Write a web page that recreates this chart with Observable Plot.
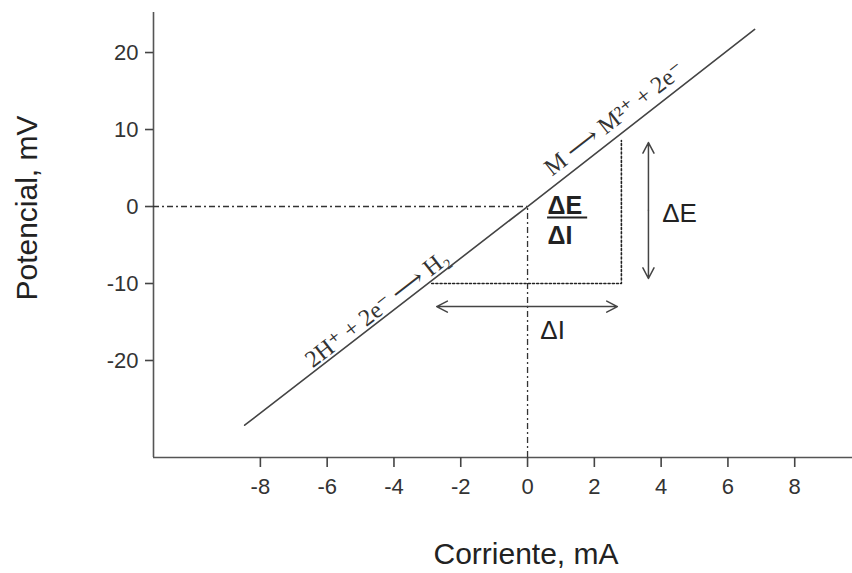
<!DOCTYPE html>
<html><head><meta charset="utf-8">
<script src="https://cdn.jsdelivr.net/npm/d3@7"></script>
<script src="https://cdn.jsdelivr.net/npm/@observablehq/plot@0.6"></script>
<style>body{margin:0;background:#fff}</style>
</head><body><div id="chart"></div>
<script>
// axis ticks
const xTicks = [-8, -6, -4, -2, 0, 2, 4, 6, 8];
const yTicks = [-20, -10, 0, 10, 20];
const xDomain = [-11.2, 9.73];
const yDomain = [-32.6, 25.2];

// polarization line (Corriente I, Potencial E)
const lineI = [-8.47, 0, 6.8];
const lineE = [-28.4, 0, 23.0];

// dotted triangle (ΔI, ΔE)
const triI = [-2.87, 2.81, 2.81];
const triE = [-10, -10, 8.57];

// double arrows (drawn as pairs from a midpoint)
const arrowFromI = [0, 0, 3.62, 3.62];
const arrowFromE = [-13, -13, -0.5, -0.5];
const arrowToI = [-2.72, 2.69, 3.62, 3.62];
const arrowToE = [-13, -13, 8.31, -9.35];

// labels
const deltaText = ["ΔE", "ΔI"];
const deltaI = [4.55, 0.75];
const deltaE = [-0.9, -16.1];

const fracText = ["ΔE", "ΔI"];
const fracI = [0.6, 0.6];
const fracE = [0.1, -3.8];
const fracBarI = [0.6, 1.8];
const fracBarE = -1.43;

const reactText = ["2H⁺ + 2e⁻ ⟶ H₂", "M ⟶ M²⁺ + 2e⁻"];
const reactI = [-4.5, 2.6];
const reactE = [-13.3, 11.4];

const xTitle = "Corriente, mA";
const yTitle = "Potencial, mV";

const idx = a => a.map((_, i) => i);

const chart = Plot.plot({
  width: 852,
  height: 573,
  marginLeft: 153,
  marginRight: 0,
  marginTop: 12,
  marginBottom: 116,
  style: {fontFamily: "'Liberation Sans', Arial, sans-serif", fontSize: "22px", color: "#333", background: "#fff"},
  x: {domain: xDomain},
  y: {domain: yDomain},
  marks: [
    // axes
    Plot.ruleY([yDomain[0]], {stroke: "#555", strokeWidth: 1.6}),
    Plot.ruleX([xDomain[0]], {stroke: "#555", strokeWidth: 1.6}),
    Plot.axisX(xTicks, {anchor: "bottom", tickSize: 10, tickPadding: 11, label: null, tickFormat: d => String(d),
      stroke: "#444", strokeWidth: 1.6, fill: "#333"}),
    Plot.axisY(yTicks, {anchor: "left", tickSize: 8, tickPadding: 7, label: null, tickFormat: d => String(d),
      stroke: "#444", strokeWidth: 1.6, fill: "#333"}),
    // origin guides (dash-dot)
    Plot.ruleY([0], {x1: xDomain[0], x2: 0, stroke: "#333", strokeWidth: 1.3, strokeDasharray: "6,3,2,3"}),
    Plot.ruleX([0], {y1: yDomain[0], y2: 0, stroke: "#333", strokeWidth: 1.3, strokeDasharray: "6,3,2,3"}),
    // main line
    Plot.line(idx(lineI), {x: i => lineI[i], y: i => lineE[i], stroke: "#444", strokeWidth: 1.6}),
    // dotted triangle
    Plot.line(idx(triI), {x: i => triI[i], y: i => triE[i], stroke: "#222", strokeWidth: 1.6, strokeDasharray: "2,2.2"}),
    // arrows
    Plot.arrow(idx(arrowFromI), {x1: i => arrowFromI[i], y1: i => arrowFromE[i], x2: i => arrowToI[i], y2: i => arrowToE[i],
      stroke: "#444", strokeWidth: 1.5, headLength: 12, headAngle: 55}),
    // ΔE, ΔI labels
    Plot.text(idx(deltaText), {x: i => deltaI[i], y: i => deltaE[i], text: i => deltaText[i], fontSize: 26, fill: "#222"}),
    // fraction
    Plot.text(idx(fracText), {x: i => fracI[i], y: i => fracE[i], text: i => fracText[i], fontSize: 25, fontWeight: "bold", textAnchor: "start", fill: "#222"}),
    Plot.ruleY([fracBarE], {x1: fracBarI[0], x2: fracBarI[1], stroke: "#222", strokeWidth: 2}),
    // reaction labels
    Plot.text(idx(reactText), {x: i => reactI[i], y: i => reactE[i], text: i => reactText[i], rotate: -37.8,
      fontSize: 24, fontFamily: "'Liberation Serif', 'DejaVu Serif', 'Times New Roman', serif", fill: "#333"}),
    // axis titles
    Plot.text([xTitle], {frameAnchor: "bottom", textAnchor: "middle", lineAnchor: "middle", dx: 23, dy: 97, fontSize: 30, fill: "#222"}),
    Plot.text([yTitle], {frameAnchor: "left", textAnchor: "middle", lineAnchor: "middle", rotate: -90, dx: -126, dy: -27, fontSize: 30, fill: "#222"})
  ]
});
document.getElementById("chart").appendChild(chart);
</script>
</body></html>
